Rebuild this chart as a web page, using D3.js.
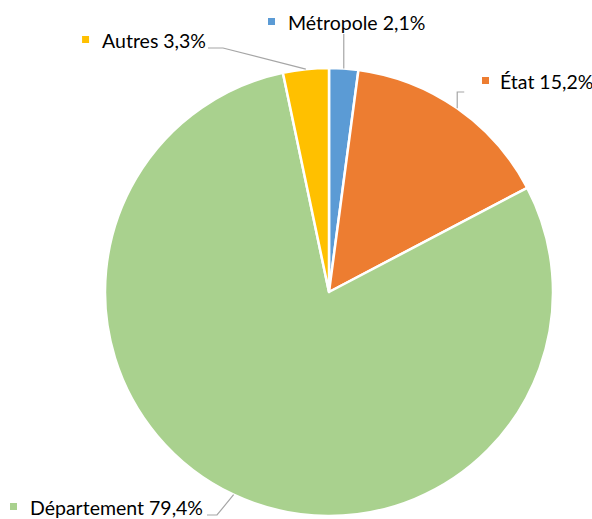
<!DOCTYPE html>
<meta charset="utf-8">
<script src="https://d3js.org/d3.v7.min.js"></script>
<style>
  body { margin: 0; background: #fff; }
  text { font-family: Lato, "Open Sans", sans-serif; font-size: 19.5px; fill: #000; }
</style>
<body>
<div id="canvas"></div>
<script>
  var categories = ["Métropole", "État", "Département", "Autres"];
  var values = [2.1, 15.2, 79.4, 3.3];
  var labels = ["Métropole 2,1%", "État 15,2%", "Département 79,4%", "Autres 3,3%"];
  var colors = ["#5b9bd5", "#ed7d31", "#a9d18e", "#ffc000"];

  var width = 592, height = 519;
  var cx = 329, cy = 292, radius = 224;

  var svg = d3.select("#canvas").append("svg")
    .attr("width", width)
    .attr("height", height);

  var g = svg.append("g").attr("transform", "translate(" + cx + "," + cy + ")");

  var pie = d3.pie().sort(null).value(function(d) { return d; });
  var arcs = pie(values);
  var arc = d3.arc().innerRadius(0).outerRadius(radius);

  g.selectAll("path.slice")
    .data(arcs)
    .enter().append("path")
    .attr("class", "slice")
    .attr("d", arc)
    .attr("fill", function(d, i) { return colors[i]; })
    .attr("stroke", "#fff")
    .attr("stroke-width", 2.5)
    .attr("stroke-linejoin", "round");

  // point sur le bord du camembert, au milieu de chaque part
  function edge(d) {
    var a = (d.startAngle + d.endAngle) / 2;
    return [Math.sin(a) * radius, -Math.cos(a) * radius];
  }

  // coude de la ligne de rappel et position de l'étiquette (relatifs au centre)
  // "start" : tx = bord gauche du carré ; "end" : tx = fin du texte
  var layout = [
    { elbow: function(p) { return [[p[0], -258]]; }, tx: -61, ty: -262, anchor: "start", gap: 20 },
    { elbow: function(p) { return [[p[0], -200], [p[0] + 7, -200]]; }, tx: 153, ty: -203, anchor: "start", gap: 18 },
    { elbow: function(p) { return [[-112, 223], [-122, 223]]; }, tx: -126, ty: 223, anchor: "end", gap: 20 },
    { elbow: function(p) { return [[-106, -244], [-121, -244]]; }, tx: -123, ty: -244, anchor: "end", gap: 20 }
  ];

  var line = d3.line();

  arcs.forEach(function(d, i) {
    var p = edge(d);
    var L = layout[i];
    g.append("path")
      .attr("d", line([p].concat(L.elbow(p))))
      .attr("fill", "none")
      .attr("stroke", "#a6a6a6")
      .attr("stroke-width", 1.2);

    var t = g.append("text")
      .attr("x", L.tx)
      .attr("y", L.ty)
      .attr("text-anchor", L.anchor)
      .text(labels[i]);

    var w = t.node().getComputedTextLength();
    var left;
    if (L.anchor === "start") {
      left = L.tx;
      t.attr("x", L.tx + L.gap);
    } else {
      left = L.tx - w - L.gap;
    }
    g.append("rect")
      .attr("x", left)
      .attr("y", L.ty - 12)
      .attr("width", 7)
      .attr("height", 7)
      .attr("fill", colors[i]);
  });
</script>
</body>
